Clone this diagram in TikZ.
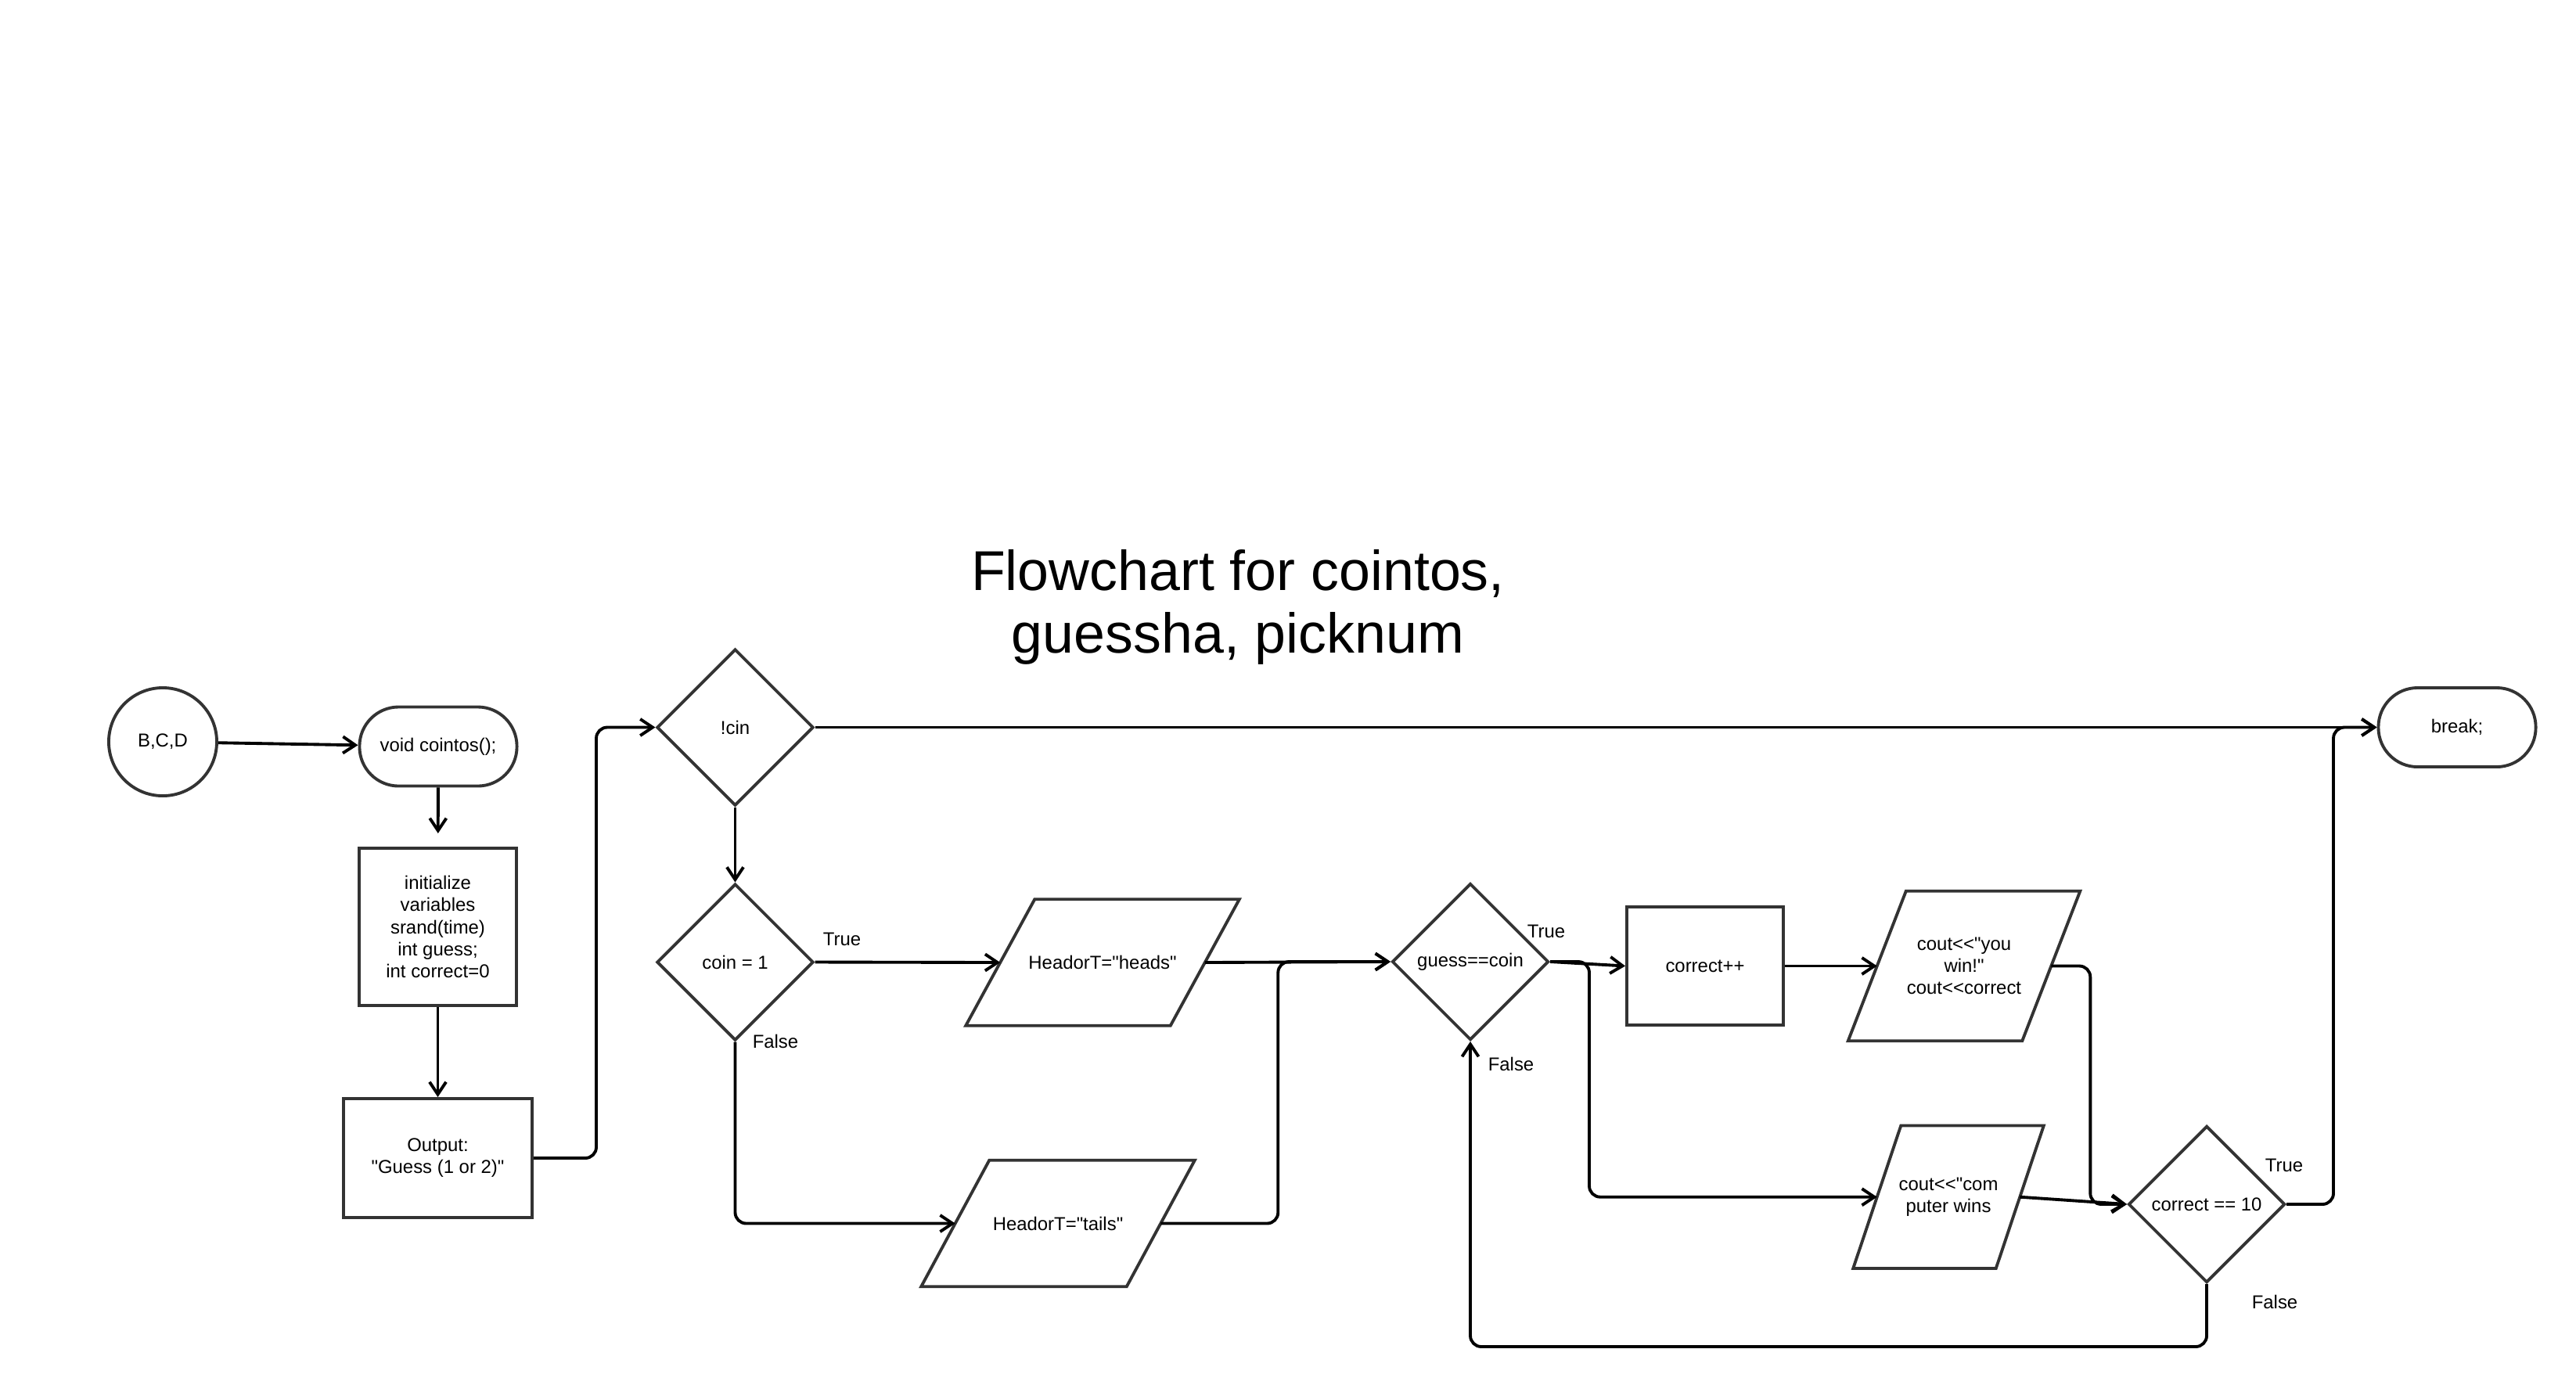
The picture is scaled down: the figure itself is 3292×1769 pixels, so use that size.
\documentclass[tikz,border=0pt]{standalone}
\usepackage{fontspec}
\setmainfont{Liberation Sans}[Ligatures=TeXOff]
\usetikzlibrary{shapes.geometric, arrows.meta}

% parallelogram round an io node: name, half of the slant
\newcommand{\drawio}[2]{\draw[outline] ([xshift=#2]#1.north west) -- ([xshift=#2]#1.north east) -- ([xshift=-#2]#1.south east) -- ([xshift=-#2]#1.south west) -- cycle;}

\begin{document}
\begin{tikzpicture}[x=0.01cm, y=-0.01cm,
	every node/.style={font=\fontsize{6.8}{8}\selectfont, align=center},
	outline/.style={draw=black!80, line width=1.1pt, inner sep=0pt},
	proc/.style={outline, rectangle},
	term/.style={outline, rectangle, rounded corners=0.5cm, minimum width=2.01cm, minimum height=1.01cm},
	decision/.style={outline, diamond, aspect=1, minimum width=2cm, minimum height=2cm},
	io/.style={rectangle, inner sep=0pt},
	lbl/.style={inner sep=0pt},
	arr/.style={-{Straight Barb[length=4.5pt, width=6pt]}, line width=1.1pt, black, rounded corners=0.14cm}]

			\useasboundingbox (0,0) rectangle (3292,1769);
			% Title
			\node[font=\fontsize{20.4}{22.8}\selectfont] (title) at (1582,776) {Flowchart for cointos,\\guessha, picknum};

			% Start
			\node[outline, circle, minimum size=1.38cm] (bcd) at (208,948) {B,C,D};
			\node[term] (void) at (560,954) {void cointos();};
			\node[proc, minimum width=2.01cm, minimum height=2.01cm] (init) at (559.5,1184.5) {initialize\\variables\\srand(time)\\int guess;\\int correct=0};
			\node[proc, minimum width=2.41cm, minimum height=1.52cm] (output) at (559.5,1480) {Output:\\"Guess (1 or 2)"};
			% Decisions
			\node[decision] (cin)   at (939.5,929.5)  {!cin};
			\node[decision] (coin)  at (939.5,1229.5) {coin = 1};
			\node[decision] (guess) at (1879,1229)    {guess==coin};
			\node[decision] (cten)  at (2820,1539)    {correct == 10};
			% Input / output
			\node[io, minimum width=2.6cm,  minimum height=1.6cm] (heads) at (1409,1230)   {HeadorT="heads"};
			\node[io, minimum width=2.61cm, minimum height=1.6cm] (tails) at (1352,1563.5) {HeadorT="tails"};
			\node[io, minimum width=2.21cm, minimum height=1.9cm] (ywin)  at (2510,1234.5) {cout<<"you\\win!"\\cout<<correct};
			\node[io, minimum width=1.81cm, minimum height=1.81cm] (cwins) at (2490,1529.7) {cout<<"com\\puter wins};
			\drawio{heads}{0.44cm}
			\drawio{tails}{0.435cm}
			\drawio{ywin}{0.37cm}
			\drawio{cwins}{0.305cm}
			% Steps
			\node[proc, minimum width=2cm, minimum height=1.51cm] (incr) at (2179,1234.5) {correct++};
			\node[term] (brk) at (3140,929.5) {break;};

			% Labels
			\node[lbl] (ltrue1)  at (1076,1200) {True};
			\node[lbl] (lfalse1) at (991,1331)  {False};
			\node[lbl] (ltrue2)  at (1976,1190) {True};
			\node[lbl] (lfalse2) at (1931,1360) {False};
			\node[lbl] (ltrue3)  at (2919,1489) {True};
			\node[lbl] (lfalse3) at (2907,1664) {False};

			% Arrows start
			\draw[arr] (bcd) -- (void);
			\draw[arr, shorten >=0.17cm] (void) -- (init);
			\draw[arr] (init) -- (output);
			\draw[arr] (output.east) -- ++(80,0) |- (cin.west);
			% Arrows !cin
			\draw[arr] (cin.east) -- (brk.west);
			\draw[arr] (cin) -- (coin);
			% Arrows coin
			\draw[arr] (coin.east) -- (heads.west);
			\draw[arr] (coin.south) |- (tails.west);
			\draw[arr] (heads.east) -- (guess.west);
			\draw[arr] (tails.east) -- ++(150,0) |- (guess.west);
			% Arrows guess
			\draw[arr] (guess.east) -- (incr.west);
			\draw[arr] (guess.east) -- ++(50,0) |- (cwins.west);
			\draw[arr] (incr.east) -- (ywin.west);
			% Arrows correct == 10
			\draw[arr] (ywin.east) -- ++(50,0) |- (cten.west);
			\draw[arr] (cwins.east) -- (cten.west);
			\draw[arr] (cten.south) -- ++(0,80) -| (guess.south);
			\draw[arr] (cten.east) -- ++(60,0) |- (brk.west);
		\end{tikzpicture}
\end{document}
